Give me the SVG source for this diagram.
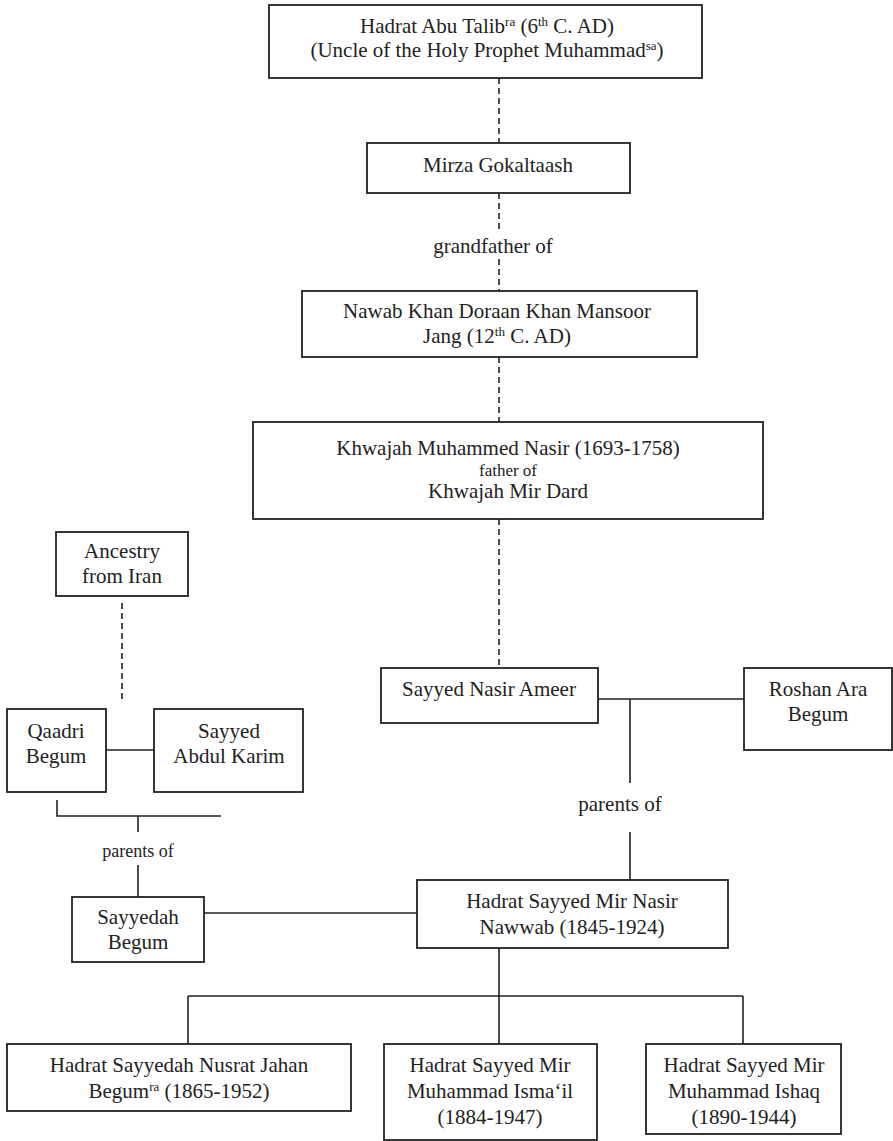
<svg xmlns="http://www.w3.org/2000/svg" width="893" height="1141" viewBox="0 0 893 1141">
<style>
.box{fill:#fff;stroke:#222;stroke-width:1.8}
.ln{fill:none;stroke:#222;stroke-width:1.6}
.dash{fill:none;stroke:#222;stroke-width:1.6;stroke-dasharray:6,4}
text{font-family:"Liberation Serif","Times New Roman",serif;fill:#222;font-size:21px;text-anchor:middle}
.sm{font-size:18px}
.sup{font-size:13px}
</style>
<rect width="893" height="1141" fill="#fff"/>
<g id="connectors">
<path class="dash" d="M499 78V143"/>
<path class="dash" d="M499 193V230"/>
<path class="dash" d="M499 259V291"/>
<path class="dash" d="M499 357V422"/>
<path class="dash" d="M499 519V668"/>
<path class="dash" d="M122 603V702"/>
<path class="ln" d="M106 750H154"/>
<path class="ln" d="M57 800V816H221M138 816V832"/>
<path class="ln" d="M138 865V897"/>
<path class="ln" d="M204 913H417"/>
<path class="ln" d="M598 699H744M630 699V783"/>
<path class="ln" d="M630 832V880"/>
<path class="ln" d="M499 948V996M188 996H743M188 996V1044M499 996V1044M743 996V1044"/>
<text x="493" y="253">grandfather of</text>
<text x="138" y="857" class="sm">parents of</text>
<text x="620" y="811">parents of</text>
</g>
<g id="n-abutalib">
<rect class="box" x="269" y="5" width="433" height="73"/>
<text x="487" y="33">Hadrat Abu Talib<tspan class="sup" dy="-7">ra</tspan><tspan dy="7"> (6</tspan><tspan class="sup" dy="-7">th</tspan><tspan dy="7"> C. AD)</tspan></text>
<text x="487" y="57">(Uncle of the Holy Prophet Muhammad<tspan class="sup" dy="-7">sa</tspan><tspan dy="7">)</tspan></text>
</g>
<g id="n-mirza">
<rect class="box" x="367" y="143" width="263" height="50"/>
<text x="498" y="172">Mirza Gokaltaash</text>
</g>
<g id="n-nawab">
<rect class="box" x="302" y="291" width="395" height="66"/>
<text x="497" y="318">Nawab Khan Doraan Khan Mansoor</text>
<text x="497" y="343">Jang (12<tspan class="sup" dy="-7">th</tspan><tspan dy="7"> C. AD)</tspan></text>
</g>
<g id="n-khwajah">
<rect class="box" x="253" y="422" width="510" height="97"/>
<text x="508" y="455">Khwajah Muhammed Nasir (1693-1758)</text>
<text x="508" y="476" style="font-size:17px">father of</text>
<text x="508" y="498">Khwajah Mir Dard</text>
</g>
<g id="n-ancestry">
<rect class="box" x="56" y="532" width="132" height="64"/>
<text x="122" y="558">Ancestry</text>
<text x="122" y="583">from Iran</text>
</g>
<g id="n-qaadri">
<rect class="box" x="7" y="709" width="99" height="83"/>
<text x="56" y="738">Qaadri</text>
<text x="56" y="763">Begum</text>
</g>
<g id="n-abdulkarim">
<rect class="box" x="154" y="709" width="149" height="83"/>
<text x="229" y="738">Sayyed</text>
<text x="229" y="763">Abdul Karim</text>
</g>
<g id="n-sayyedah">
<rect class="box" x="72" y="897" width="132" height="65"/>
<text x="138" y="924">Sayyedah</text>
<text x="138" y="949">Begum</text>
</g>
<g id="n-nasirameer">
<rect class="box" x="381" y="668" width="217" height="55"/>
<text x="489" y="696">Sayyed Nasir Ameer</text>
</g>
<g id="n-roshan">
<rect class="box" x="744" y="668" width="148" height="82"/>
<text x="818" y="696">Roshan Ara</text>
<text x="818" y="721">Begum</text>
</g>
<g id="n-nasirnawwab">
<rect class="box" x="417" y="880" width="311" height="68"/>
<text x="572" y="908">Hadrat Sayyed Mir Nasir</text>
<text x="572" y="934">Nawwab (1845-1924)</text>
</g>
<g id="n-nusrat">
<rect class="box" x="7" y="1044" width="344" height="67"/>
<text x="179" y="1072">Hadrat Sayyedah Nusrat Jahan</text>
<text x="179" y="1098">Begum<tspan class="sup" dy="-7">ra</tspan><tspan dy="7"> (1865-1952)</tspan></text>
</g>
<g id="n-ismail">
<rect class="box" x="384" y="1044" width="213" height="96"/>
<text x="490" y="1072">Hadrat Sayyed Mir</text>
<text x="490" y="1098">Muhammad Isma‘il</text>
<text x="490" y="1124">(1884-1947)</text>
</g>
<g id="n-ishaq">
<rect class="box" x="646" y="1044" width="195" height="90"/>
<text x="744" y="1072">Hadrat Sayyed Mir</text>
<text x="744" y="1098">Muhammad Ishaq</text>
<text x="744" y="1124">(1890-1944)</text>
</g>
</svg>
